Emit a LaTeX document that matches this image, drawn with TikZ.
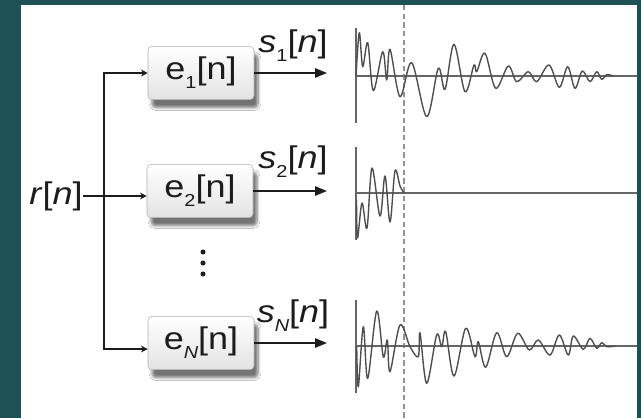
\documentclass[tikz,border=0pt]{standalone}
\usepackage{fontspec}
\setmainfont{Liberation Sans}
\usetikzlibrary{arrows.meta,shadows.blur}
\definecolor{bgteal}{HTML}{1E5157}
\definecolor{inkc}{HTML}{1C1C1C}
\definecolor{wavec}{HTML}{4F4F4F}
\definecolor{axisc}{HTML}{666666}
\newcommand{\wide}[1]{\scalebox{1.15}[1]{#1}}
\newcommand{\lowsub}[1]{\raisebox{-0.28em}{\fontsize{13}{13}\selectfont #1}}
\begin{document}
\begin{tikzpicture}[x=0.75pt,y=-0.75pt,
  block/.style={draw=gray!60, rounded corners=3pt, top color=white, bottom color=gray!22,
    minimum width=79.5pt, minimum height=40pt, inner sep=0pt,
    blur shadow={shadow xshift=3pt, shadow yshift=-6pt, shadow blur steps=6, shadow opacity=55},
    font=\fontsize{23.5}{25}\selectfont, text=inkc},
  lbl/.style={font=\fontsize{23.5}{25}\selectfont, text=inkc, inner sep=0pt},
  inarrow/.style={draw=inkc, line width=1.1pt, -{Stealth[length=5pt,width=5pt]}},
  outarrow/.style={draw=inkc, line width=1.2pt, -{Triangle[length=9pt,width=7pt]}},
  wave/.style={draw=wavec, line width=1.05pt, line join=round},
  axisline/.style={draw=axisc, line width=1.1pt},
  dashline/.style={draw=gray!85, line width=1.1pt, dash pattern=on 4pt off 2.5pt}]
\useasboundingbox (0,0) rectangle (641,418);
\fill[bgteal] (0,0) rectangle (641,418);
\fill[white] (21,5) rectangle (637,418);

% dashed marker
\draw[dashline] (404,5) -- (404,418);

% blocks
\node[block] (e1) at (201,73) {\wide{e\lowsub{1}[n]}};
\node[block] (e2) at (200,191) {\wide{e\lowsub{2}[n]}};
\node[block] (eN) at (201,343) {\wide{e\lowsub{\textit{N}}[n]}};

% input
\node[lbl] (r) at (56,196) {\wide{\textit{r}[\textit{n}]}};
\coordinate (vt) at (104,73);
\coordinate (vb) at (104,349);
\draw[inarrow] (r.east) -- (e2.west |- r.east);
\draw[inarrow] (vb) |- (e1.west);
\draw[inarrow] (vt) |- (eN.west |- vb);

% outputs
\coordinate (t1) at (327,73);
\coordinate (t2) at (327,191);
\coordinate (tN) at (327,343);
\draw[outarrow] (e1.east) -- (t1);
\draw[outarrow] (e2.east) -- (t2);
\draw[outarrow] (eN.east) -- (tN);
\node[lbl] (s1) at (293,46) {\wide{\textit{s}\lowsub{1}[\textit{n}]}};
\node[lbl] (s2) at (293,162) {\wide{\textit{s}\lowsub{2}[\textit{n}]}};
\node[lbl] (sN) at (293,316) {\wide{\textit{s}\lowsub{\textit{N}}[\textit{n}]}};

% vertical dots
\fill[inkc] (203,252) circle[radius=1.9pt];
\fill[inkc] (203,263) circle[radius=1.9pt];
\fill[inkc] (203,274) circle[radius=1.9pt];

% axes
\draw[axisline] (356,28) -- (356,123);
\draw[axisline] (356,76) -- (637,76);
\draw[axisline] (356,147) -- (356,240);
\draw[axisline] (356,193) -- (637,193);
\draw[axisline] (356,300) -- (356,393);
\draw[axisline] (356,346) -- (637,346);

% waveform 1
\draw[wave] plot[smooth, tension=0.55] coordinates {
(356,76) (359.3,32.7) (362.7,66.7) (367.7,42.7) (373.3,90.7) (382.7,51.7)
(386.7,80) (390,49.3) (400,96.7) (411.7,62.7) (426.7,116.7) (438.3,68.3)
(445,89.3) (454,44.3) (465,91.7) (474,65) (476.7,71.7) (485,53.3)
(495.7,88.3) (508.3,66) (516.7,81.7) (528.3,71.7) (536.7,81.7) (549,65)
(559.3,87.3) (567.7,66.7) (575,88.3) (582.3,71) (590,81.7) (596.7,71.7)
(601.7,79.3) (606.7,74.7) (613.3,76)};

% waveform 2
\draw[wave] plot[smooth, tension=0.55] coordinates {
(356.5,200) (357.5,238) (362,203) (367,228) (372,168) (380,216)
(385,176) (390,222) (395,171) (400,186) (404,193)};

% waveform N
\draw[wave] plot[smooth, tension=0.55] coordinates {
(356.7,346) (358.3,386.7) (363.3,326.7) (367.7,378.3) (376.7,311) (383.3,356.7)
(387.3,340) (390,371.7) (400,325) (410,346.7) (418.3,356.7) (420,333)
(426.7,383.3) (436.7,335) (441.7,346.7) (445.7,331.7) (454,376) (465.7,328.3)
(475,356.7) (478.3,341.7) (485.7,367.3) (496.7,332.7) (506.7,356.7) (517.7,333.3)
(529.3,350) (538.3,340) (550,355) (559.3,335) (568.3,355) (573.3,336)
(583.3,349.3) (590,338.3) (596.7,348.3) (601.7,342.7) (606.7,346.7) (615,346)};
\end{tikzpicture}
\end{document}
